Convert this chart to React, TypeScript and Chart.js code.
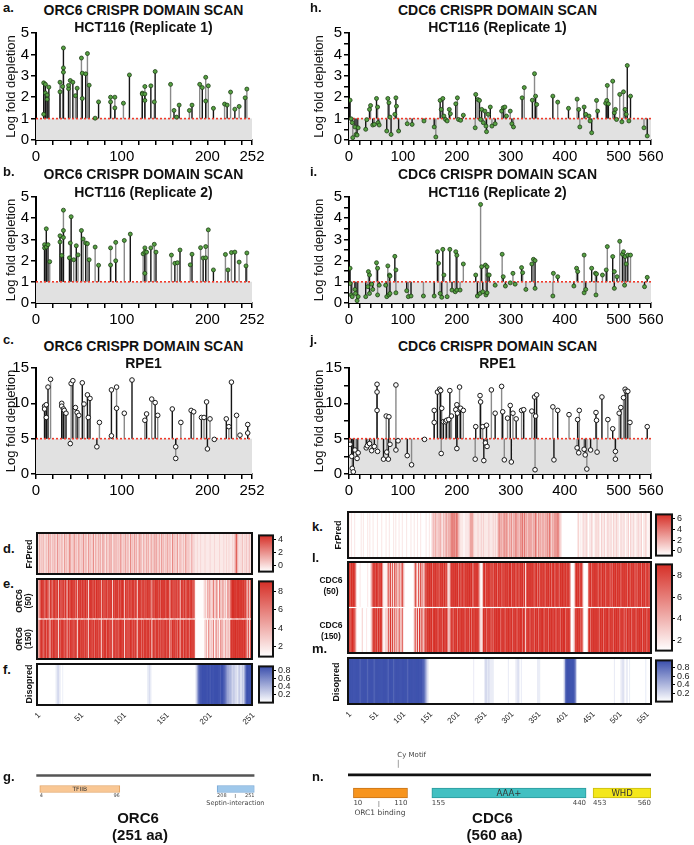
import React, { useEffect, useRef } from "react";
import { Chart, registerables } from "chart.js";

Chart.register(...registerables);

const SANS = "'Liberation Sans', Arial, Helvetica, sans-serif";
const DEJAVU = "'DejaVu Sans', Verdana, sans-serif";
Chart.defaults.font.family = SANS;
Chart.defaults.color = "#000";

type Pt = [number, number];

// ---------------- lollipop data: [residue position, log fold depletion] ----------------
const ORC6_REP1: Pt[] = [
  [9, 2.67], [9, 1.2], [11, 2.6], [11, 2.2], [13, 2.1], [13, 1.9], [15, 2.47],
  [28, 2.7], [28, 2.25], [31, 2.5], [32, 4.3], [32, 3.37], [32, 3.17],
  [38, 2.4], [38, 2.55], [40, 2.78], [43, 2.7], [46, 2.07], [48, 2.42],
  [53, 3.83], [54, 3.12], [54, 1.94], [58, 3.09], [60, 4.04], [62, 2.56],
  [69, 1.02], [73, 1.78], [87, 2.0], [87, 1.78], [92, 2.0], [92, 1.5],
  [102, 1.72], [109, 3.04], [124, 2.19], [124, 2.15], [127, 2.5], [127, 2.15], [127, 1.85],
  [134, 2.53], [138, 1.78], [139, 3.2], [157, 2.6], [161, 1.38], [164, 1.07], [167, 1.63],
  [179, 1.38], [182, 1.63], [191, 2.6], [194, 2.45], [198, 2.93], [198, 1.82], [201, 2.53], [207, 1.48],
  [220, 1.68], [223, 1.63], [227, 2.24], [232, 1.44], [237, 1.57], [244, 1.97], [246, 2.38],
];
const ORC6_REP2: Pt[] = [
  [10, 2.75], [10, 2.6], [12, 3.5], [12, 2.64], [14, 2.75], [16, 1.95],
  [28, 3.17], [28, 2.88], [30, 2.24], [32, 4.38], [32, 3.42], [32, 3.09], [39, 2.13], [40, 2.83], [41, 4.07],
  [44, 2.04], [47, 2.7], [49, 2.27], [53, 3.42], [55, 3.02], [58, 2.83], [60, 2.8], [62, 2.04],
  [69, 2.64], [73, 1.78], [87, 2.6], [87, 1.79], [93, 2.86], [93, 1.99], [103, 2.95], [110, 3.25],
  [125, 2.32], [127, 2.6], [127, 2.4], [127, 1.4], [129, 2.4], [134, 2.6], [138, 2.77], [140, 2.4],
  [158, 2.26], [162, 1.87], [165, 1.9], [168, 2.5], [180, 1.8], [182, 2.3], [192, 2.61], [195, 2.12],
  [198, 2.66], [198, 2.13], [201, 3.45], [207, 1.56], [221, 2.29], [224, 1.56], [228, 2.38], [232, 2.4],
  [237, 1.93], [245, 1.75], [246, 2.36],
];
const ORC6_RPE1: Pt[] = [
  [10, 9.6], [10, 9.2], [12, 9.8], [12, 8.0], [14, 12.3], [17, 13.4],
  [30, 10], [30, 9.6], [32, 9.2], [33, 9], [35, 8.6], [41, 12.8], [43, 13.2], [46, 9.4], [48, 8.7], [50, 8.3],
  [54, 12.9], [56, 9.9], [60, 11.2], [61, 8], [63, 10.7], [74, 7.3], [88, 11.9], [94, 12.3], [94, 9.3],
  [103, 8.6], [112, 13.3], [127, 7.6], [129, 8.5], [135, 10.6], [139, 10.1], [142, 8.3], [159, 9.2], [169, 7.3],
  [181, 9], [184, 8.8], [193, 8], [196, 8], [199, 10.2], [203, 7.8], [222, 7.8], [225, 6.7], [228, 13], [234, 8.3], [247, 7],
  [40, 4.3], [71, 3.85], [88, 5.4], [163, 3.85], [163, 2.2], [200, 3.55], [208, 4.9], [238, 5.5], [247, 5.8],
];
const CDC6_REP1: Pt[] = [
  [2, 1.86], [4, 0.99], [6, 0.81], [7, 0.11], [11, 0.61], [13, 0.26], [15, 0.23], [17, 0.57], [31, 0.5], [33, 0.95],
  [38, 1.43], [40, 1.61], [44, 0.7], [47, 0.73], [51, 1.94], [53, 1.54], [54, 0.81], [56, 0.7], [70, 0.42], [72, 1.94],
  [74, 1.74], [76, 1.07], [78, 0.26], [85, 1.2], [87, 1.97], [88, 1.58], [92, 0.42], [108, 0.76], [117, 0.73], [139, 0.89],
  [158, 0.61], [161, 0.14], [169, 1.85], [171, 1.43], [174, 1.94], [176, 1.12], [179, 0.96], [182, 0.89], [186, 1.43], [188, 1.23],
  [198, 1.69], [201, 1.97], [203, 0.96], [207, 0.92], [212, 1.16], [234, 0.57], [235, 2.13], [239, 1.89], [242, 1.85], [244, 0.96],
  [246, 1.43], [249, 0.81], [252, 1.35], [254, 0.65], [255, 0.39], [258, 1.2], [262, 1.54], [265, 0.65], [271, 0.76], [283, 1.35],
  [286, 1.51], [289, 1.54], [292, 1.12], [299, 1.35], [302, 0.76], [305, 0.61], [321, 1.97], [325, 2.45], [340, 1.86], [344, 3.1],
  [346, 2.05], [348, 1.66], [378, 2.05], [387, 1.77], [407, 1.48], [423, 1.91], [426, 1.43], [428, 0.61], [436, 1.54], [439, 1.2],
  [445, 1.12], [447, 0.89], [450, 0.34], [459, 1.85], [461, 1.35], [476, 1.72], [478, 1.85], [479, 2.55], [481, 1.69], [489, 2.75],
  [492, 1.27], [494, 1.43], [496, 0.96], [502, 2.13], [506, 0.85], [509, 2.25], [512, 1.43], [514, 1.2], [516, 3.48], [519, 0.89],
  [522, 2.05], [547, 0.57], [553, 0.19],
];
const CDC6_REP2: Pt[] = [
  [2, 1.64], [36, 1.48], [38, 1.32], [51, 1.9], [53, 1.64], [72, 1.75], [75, 1.32], [76, 1.27], [85, 2.2], [87, 1.56],
  [164, 2.42], [166, 1.87], [174, 2.53], [176, 1.32], [187, 2.53], [198, 2.42], [200, 2.25], [212, 1.84],
  [235, 1.32], [244, 4.65], [246, 1.71], [253, 1.79], [256, 1.71], [258, 1.32], [260, 1.32], [284, 2.3], [286, 1.24], [304, 1.4],
  [320, 1.67], [322, 1.43], [339, 1.84], [342, 2.06], [345, 2.0], [379, 1.4], [387, 1.24],
  [422, 1.64], [424, 1.48], [436, 2.26], [450, 1.64], [457, 1.4], [459, 1.37], [470, 1.32], [477, 1.56], [479, 2.66], [489, 2.19],
  [492, 1.48], [497, 1.24], [502, 2.91], [507, 2.3], [509, 2.42], [512, 2.19], [514, 1.84], [517, 2.26], [522, 2.26], [553, 1.21],
  [2, 0.92], [4, 0.38], [6, 0.3], [11, 0.64], [12, 0.45], [15, 0.11], [17, 0.3], [31, 0.3], [35, 0.77], [38, 0.45],
  [42, 0.89], [44, 0.64], [53, 0.38], [56, 0.84], [68, 0.84], [70, 0.3], [74, 0.38], [76, 0.45], [87, 0.48], [107, 0.58],
  [110, 0.3], [115, 0.33], [138, 0.33], [158, 0.33], [169, 0.45], [172, 0.27], [182, 0.3], [191, 0.61], [197, 0.53], [200, 0.61],
  [206, 0.61], [238, 0.33], [243, 0.45], [248, 0.53], [254, 0.38], [256, 0.48], [271, 0.84], [290, 0.8], [299, 0.95], [308, 0.89],
  [328, 0.64], [345, 0.69], [378, 0.33], [417, 0.8], [436, 0.48], [439, 0.64], [458, 0.38], [492, 0.69], [511, 0.84], [548, 0.77],
];
const CDC6_RPE1: Pt[] = [
  [52, 12.7], [52, 11.6], [52, 9.0], [69, 8.2], [74, 8.1], [87, 12.6],
  [158, 9.0], [158, 7.3], [164, 11.6], [168, 12.0], [170, 11.8], [172, 9.3], [175, 7.4], [179, 7.4], [181, 7.6], [185, 7.7],
  [187, 11.8], [190, 8.2], [198, 9.1], [200, 9.8], [201, 8.6], [205, 12.3], [207, 9.3], [212, 9.0],
  [235, 6.7], [243, 11.1], [244, 10.2], [248, 6.7], [255, 6.9], [264, 11.9], [271, 8.6], [283, 12.4], [285, 8.8], [294, 7.9],
  [299, 9.7], [304, 8.6], [310, 7.8], [320, 9.0], [324, 9.1], [339, 8.9], [344, 10.9], [346, 8.2], [348, 11.2],
  [378, 9.5], [387, 9.0], [408, 8.4], [424, 7.7], [427, 9.0], [458, 8.7], [459, 7.6], [469, 10.9], [480, 7.7], [489, 6.4],
  [501, 8.6], [504, 9.4], [509, 10.8], [512, 12.0], [514, 11.7], [517, 11.7], [521, 7.3], [553, 6.7],
  [2, 4.2], [5, 2.5], [6, 0.8], [8, 0.3], [11, 3.4], [15, 2.2], [17, 3.0], [32, 3.7], [34, 4.0], [38, 4.3],
  [42, 3.3], [47, 3.9], [53, 3.2], [64, 2.1], [70, 3.1], [73, 2.1], [76, 4.2], [87, 3.4], [91, 4.7], [108, 2.6],
  [116, 1.3], [140, 4.9], [171, 2.9], [200, 3.6], [234, 2.1], [250, 1.9], [253, 4.4], [256, 3.9], [288, 2.0], [301, 1.7],
  [345, 0.6], [380, 2.0], [423, 3.7], [426, 3.0], [436, 3.5], [438, 2.7], [441, 0.7], [448, 3.4], [460, 3.1], [494, 3.2], [494, 2.1],
];

// ---------------- axis ticks ----------------
const ORC6_X_TICKS = [0, 20, 40, 60, 80, 100, 120, 140, 160, 180, 200, 220, 240, 252];
const ORC6_X_LABELS = [0, 100, 200, 252];
const CDC6_X_TICKS = [0, 20, 40, 60, 80, 100, 120, 140, 160, 180, 200, 220, 240, 260, 280, 300, 320, 340, 360, 380, 400, 420, 440, 460, 480, 500, 520, 540, 560];
const CDC6_X_LABELS = [0, 100, 200, 300, 400, 500, 560];
const HCT_Y_TICKS_L = [0, 1, 2, 3, 4, 5];
const HCT_Y_TICKS_R = [0, 0.5, 1, 1.5, 2, 2.5, 3, 3.5, 4, 4.5, 5];
const HCT_Y_LABELS = [0, 1, 2, 3, 4, 5];
const RPE_Y_TICKS_L = [0, 5, 10, 15];
const RPE_Y_TICKS_R = [0, 2.5, 5, 7.5, 10, 12.5, 15];
const RPE_Y_LABELS = [0, 5, 10, 15];
const ORC6_HEAT_LABELS = [1, 51, 101, 151, 201, 251];
const CDC6_HEAT_LABELS = [1, 51, 101, 151, 201, 251, 301, 351, 401, 451, 501, 551];

// ---------------- heatmap levels (one digit per residue for ORC6, per 2 residues for CDC6) ----------------
const ORC6_FRPRED = [
  "1124231512", "2315324132", "4231623142", "3152413264", "2315423152", "4132614231", "5241326142", "3152413523",
  "1423162413", "2514231624", "1325142316", "2413524132", "6231423152", "4132513426", "1324153241", "3251423162",
  "4132513241", "2315241321", "4231211211", "1211112111", "1121111211", "1112111121", "1211211121", "2358321212",
  "3121321231", "2",
];
const ORC6_E50 = [
  "3526798976", "8979189768", "9878929869", "7969819978", "9897969298", "8979879969", "1898978969", "9798929878",
  "8969798919", "7898969789", "9829879698", "7989698198", "9878969789", "8969298798", "9879698989", "7898928987",
  "9698789189", "8797698978", "9868500000", "0000021304", "2514036215", "4206315241", "3052618899", "9898998989",
  "8979643827", "5",
];
const ORC6_E150 = [
  "2536898769", "9697918979", "8969819698", "9878929869", "8969798189", "9798969878", "2989789698", "8969819789",
  "9698969828", "8969878998", "8918969789", "9698797289", "8969698979", "9698189869", "8969789698", "9789819698",
  "8969698298", "9698789869", "8979600000", "0000003140", "5230416025", "3140526031", "4215038989", "8998989898",
  "9898752918", "4",
];
const ORC6_DISO = [
  "0000000000", "0000000000", "0011221100", "1000000000", "0000000000", "0000000000", "0000000000", "0000000000",
  "0000000000", "0000000000", "0000000000", "0000000000", "0000000001", "1211000000", "0000000000", "0000000000",
  "0000000000", "0000000000", "0000012468", "8999999999", "9989999999", "9999899988", "7654534323", "2312123212",
  "3246899999", "9",
];
const CDC6_FRPRED = [
  "0101001000", "0010100010", "1001000100", "0100010010", "0010100100", "1000100010", "0100100100", "0010010123",
  "2413242132", "3424356564", "6532111011", "1124442111", "2112121111", "2111212124", "5342635424", "3524363425",
  "4636342535", "2436425342", "5243536424", "3545632100", "0000000000", "0012010211", "2101121012", "1210211201",
  "2112021121", "1021120112", "0211201121", "1201121011",
];
const CDC6_L50 = [
  "8979898500", "0100000010", "0258979878", "8930102738", "2718360724", "8310000000", "0284172835", "1879898969",
  "8979698979", "7831398989", "8969789698", "9898967989", "8510289698", "9879698969", "8969798979", "9698969879",
  "8969189898", "9878969698", "8969897969", "9698969898", "8979860002", "7989698200", "0068969898", "9698798969",
  "8969698979", "8969898969", "8798969698", "9698969878",
];
const CDC6_L150 = [
  "9878987400", "0002000100", "0148979697", "9820130829", "3827260832", "7100000000", "0372819374", "2969898969",
  "9896989698", "8952489698", "9698898969", "8969698898", "9621398969", "8969698989", "9698969898", "8969896989",
  "9698298969", "8969896989", "9698969898", "8969896989", "9698970013", "8898969300", "0179698989", "8969896989",
  "9698969898", "9698969698", "8969896989", "8969896989",
];
const CDC6_DISO = [
  "9999999999", "9899999989", "9999899999", "9999999899", "9989999999", "9999989999", "9999999998", "8642100000",
  "0000000000", "0000000000", "0000000000", "0000001000", "0000001221", "2111100000", "0000000010", "0000011210",
  "1000000000", "0000011100", "0000000000", "0000000001", "3899999998", "6200000000", "0000000000", "0000000000",
  "0000001000", "0011210110", "1000000000", "0000010000",
];

// ---------------- domain annotations ----------------
const ORC6_LEN = 251;
const CDC6_LEN = 560;
const ORC6_DOMAINS = [
  { name: "TFIIB", start: 4, end: 96, fill: "#f9c794", stroke: "#e3a567" },
  { name: "", start: 208, end: 251, fill: "#9fc8eb", stroke: "#79a9d6" },
];
const CDC6_DOMAINS = [
  { name: "", start: 10, end: 110, fill: "#f7941d", stroke: "#c7741a" },
  { name: "AAA+", start: 155, end: 440, fill: "#41c0c2", stroke: "#2c9a9c" },
  { name: "WHD", start: 453, end: 560, fill: "#f4e71a", stroke: "#c8bb12" },
];
const SEPTIN_SITE = 229;
const ORC1_SITE = 57;
const CY_MOTIF_SITE = 93;

// ---------------- helpers ----------------
function decode(chunks: string[], n: number, rep: number, lo: number, step: number): number[] {
  const s = chunks.join("");
  const out: number[] = [];
  for (let i = 0; i < s.length && out.length < n; i++) {
    for (let r = 0; r < rep && out.length < n; r++) out.push(lo + Number(s[i]) * step);
  }
  while (out.length < n) out.push(out[out.length - 1]);
  return out;
}

const RED = [214, 47, 39];
const BLUE = [58, 78, 172];
function mix(c: number[], t: number) {
  const k = Math.max(0, Math.min(1, t));
  return `rgb(${Math.round(255 - (255 - c[0]) * k)},${Math.round(255 - (255 - c[1]) * k)},${Math.round(255 - (255 - c[2]) * k)})`;
}

const framePlugin = {
  id: "frame",
  afterDatasetsDraw(chart: any) {
    const { ctx, chartArea: a } = chart;
    ctx.save();
    ctx.strokeStyle = "#111";
    ctx.lineWidth = 2;
    ctx.strokeRect(a.left, a.top, a.right - a.left, a.bottom - a.top);
    ctx.restore();
  },
};

function ChartBox({ x, y, w, h, make }: { x: number; y: number; w: number; h: number; make: () => any }) {
  const ref = useRef<HTMLCanvasElement | null>(null);
  useEffect(() => {
    if (!ref.current) return;
    const c = new Chart(ref.current, make());
    return () => c.destroy();
  }, []);
  return <canvas ref={ref} width={w} height={h} style={{ position: "absolute", left: x, top: y, width: w, height: h }} />;
}

interface LP {
  data: Pt[];
  xMax: number;
  xTicks: number[];
  xLabels: number[];
  yMax: number;
  yTicks: number[];
  yLabels: number[];
  thr: number;
  hollow: boolean;
  yWidth: number;
  xHeight: number;
  padTop: number;
  padRight: number;
}

function lollipopConfig(p: LP) {
  const black: any[] = [];
  const grey: any[] = [];
  p.data.forEach(([x, y], i) => {
    (i % 2 === 1 ? grey : black).push({ x, y: p.thr }, { x, y }, { x, y: null });
  });
  const thrLine = [{ x: 0, y: p.thr }, { x: p.xMax, y: p.thr }];
  const axisGrid = { drawOnChartArea: false, drawTicks: true, tickLength: 5, color: "#000", lineWidth: 1.5 };
  return {
    type: "scatter",
    data: {
      datasets: [
        { type: "line", data: thrLine, fill: "origin", backgroundColor: "#e1e1e1", borderWidth: 0, pointRadius: 0, order: 5 },
        { type: "line", data: grey, borderColor: "#8a8a8a", borderWidth: 1.4, pointRadius: 0, spanGaps: false, fill: false, order: 4 },
        { type: "line", data: black, borderColor: "#151515", borderWidth: 1.4, pointRadius: 0, spanGaps: false, fill: false, order: 3 },
        { type: "line", data: thrLine, borderColor: "#ef3b2c", borderWidth: 1.6, borderDash: [2, 2], pointRadius: 0, fill: false, order: 2 },
        {
          type: "scatter",
          data: p.data.map(([x, y]) => ({ x, y })),
          pointRadius: p.hollow ? 2.3 : 2,
          backgroundColor: p.hollow ? "#ffffff" : "#56a142",
          borderColor: p.hollow ? "#1a1a1a" : "#1f3d18",
          borderWidth: p.hollow ? 1 : 0.8,
          order: 1,
        },
      ],
    },
    options: {
      responsive: false,
      animation: false,
      events: [],
      layout: { padding: { top: p.padTop, right: p.padRight, left: 0, bottom: 0 } },
      plugins: { legend: { display: false }, tooltip: { enabled: false } },
      scales: {
        x: {
          type: "linear",
          min: 0,
          max: p.xMax,
          afterBuildTicks: (s: any) => { s.ticks = p.xTicks.map((v) => ({ value: v })); },
          afterFit: (s: any) => { s.height = p.xHeight; },
          ticks: {
            autoSkip: false, maxRotation: 0, minRotation: 0, color: "#000", padding: 3,
            font: { size: 15, family: SANS },
            callback: (v: any) => (p.xLabels.includes(v) ? String(v) : ""),
          },
          grid: axisGrid,
          border: { display: true, color: "#000", width: 2 },
        },
        y: {
          type: "linear",
          min: 0,
          max: p.yMax,
          afterBuildTicks: (s: any) => { s.ticks = p.yTicks.map((v) => ({ value: v })); },
          afterFit: (s: any) => { s.width = p.yWidth; },
          ticks: {
            autoSkip: false, color: "#000", padding: 2,
            font: { size: 15, family: SANS },
            callback: (v: any) => (p.yLabels.includes(v) ? String(v) : ""),
          },
          grid: axisGrid,
          border: { display: true, color: "#000", width: 2 },
          title: { display: true, text: "Log fold depletion", color: "#111", font: { size: 13, family: SANS }, padding: { top: 4, bottom: 0 } },
        },
      },
    },
  };
}

function heatLabelsPlugin(labels: number[]) {
  return {
    id: "heatlabels",
    afterDraw(chart: any) {
      const { ctx, scales, chartArea } = chart;
      ctx.save();
      ctx.font = `8px ${SANS}`;
      ctx.fillStyle = "#222";
      ctx.textAlign = "right";
      ctx.textBaseline = "middle";
      labels.forEach((v) => {
        const px = scales.x.getPixelForValue(v - 1);
        ctx.save();
        ctx.translate(px + 2, chartArea.bottom + 9);
        ctx.rotate(-Math.PI / 4);
        ctx.fillText(String(v), 0, 0);
        ctx.restore();
      });
      ctx.restore();
    },
  };
}

function heatConfig(rows: string[][], pad: any, labels?: number[]) {
  const n = rows[0].length;
  const k = rows.length;
  const gap = 0.025;
  const datasets = rows.map((colors, r) => {
    const b = k - 1 - r + (r < k - 1 ? gap : 0);
    const t = k - r - (r > 0 ? gap : 0);
    return {
      data: colors.map(() => [b, t]),
      backgroundColor: colors,
      borderWidth: 0,
      barPercentage: 1,
      categoryPercentage: 1,
      grouped: false,
    };
  });
  const plugins: any[] = [framePlugin];
  if (labels) plugins.push(heatLabelsPlugin(labels));
  return {
    type: "bar",
    data: { labels: Array.from({ length: n }, (_, i) => String(i + 1)), datasets },
    options: {
      responsive: false,
      animation: false,
      events: [],
      layout: { padding: pad },
      plugins: { legend: { display: false }, tooltip: { enabled: false } },
      scales: {
        x: { type: "category", display: false },
        y: { type: "linear", min: 0, max: k, display: false },
      },
    },
    plugins,
  };
}

function colorbarConfig(lo: number, hi: number, col: number[], ticks: number[], pad: any, yWidth: number) {
  return {
    type: "bar",
    data: {
      labels: [""],
      datasets: [
        {
          data: [[lo, hi]],
          backgroundColor: (ctx: any) => {
            const area = ctx.chart.chartArea;
            if (!area) return mix(col, 0.5);
            const g = ctx.chart.ctx.createLinearGradient(0, area.bottom, 0, area.top);
            g.addColorStop(0, mix(col, 0));
            g.addColorStop(0.5, mix(col, 0.5));
            g.addColorStop(1, mix(col, 1));
            return g;
          },
          borderWidth: 0,
          barPercentage: 1,
          categoryPercentage: 1,
        },
      ],
    },
    options: {
      responsive: false,
      animation: false,
      events: [],
      layout: { padding: pad },
      plugins: { legend: { display: false }, tooltip: { enabled: false } },
      scales: {
        x: { display: false },
        y: {
          position: "right",
          min: lo,
          max: hi,
          afterBuildTicks: (s: any) => { s.ticks = ticks.map((v) => ({ value: v })); },
          afterFit: (s: any) => { s.width = yWidth; },
          ticks: { autoSkip: false, color: "#222", padding: 2, font: { size: 9, family: SANS }, callback: (v: any) => String(v) },
          grid: { drawOnChartArea: false, drawTicks: true, tickLength: 3, color: "#000", lineWidth: 1 },
          border: { display: false },
        },
      },
    },
    plugins: [framePlugin],
  };
}

function domainConfig(
  len: number,
  domains: { name: string; start: number; end: number; fill: string; stroke: string }[],
  lineColor: string,
  boxThick: number,
  pad: any,
  extra: (chart: any) => void
) {
  const datasets: any[] = [
    { data: [[0, len], null], backgroundColor: lineColor, borderWidth: 0, barThickness: 2, grouped: false },
  ];
  domains.forEach((d) => {
    datasets.push({
      data: [null, [d.start, d.end]],
      backgroundColor: d.fill,
      borderColor: d.stroke,
      borderWidth: 1,
      borderSkipped: false,
      barThickness: boxThick,
      grouped: false,
    });
  });
  const textPlugin = {
    id: "domaintext",
    afterDatasetsDraw(chart: any) {
      const { ctx, scales } = chart;
      const cy = scales.y.getPixelForValue(1);
      ctx.save();
      ctx.fillStyle = "#333";
      ctx.textBaseline = "middle";
      ctx.textAlign = "center";
      domains.forEach((d) => {
        if (!d.name) return;
        ctx.font = `${boxThick > 8 ? 8.5 : 6}px ${DEJAVU}`;
        ctx.fillText(d.name, scales.x.getPixelForValue((d.start + d.end) / 2), cy + 0.5);
      });
      ctx.restore();
      extra(chart);
    },
  };
  return {
    type: "bar",
    data: { labels: ["line", "dom"], datasets },
    options: {
      indexAxis: "y",
      responsive: false,
      animation: false,
      events: [],
      layout: { padding: pad },
      plugins: { legend: { display: false }, tooltip: { enabled: false } },
      scales: {
        x: { type: "linear", min: 0, max: len, display: false },
        y: { type: "category", display: false },
      },
    },
    plugins: [textPlugin],
  };
}

function numbersUnder(chart: any, domains: { start: number; end: number }[], dy: number, size: number) {
  const { ctx, scales } = chart;
  const cy = scales.y.getPixelForValue(1);
  ctx.save();
  ctx.fillStyle = "#444";
  ctx.font = `${size}px ${DEJAVU}`;
  ctx.textBaseline = "middle";
  domains.forEach((d) => {
    ctx.textAlign = "left";
    ctx.fillText(String(d.start), scales.x.getPixelForValue(d.start), cy + dy);
    ctx.textAlign = "right";
    ctx.fillText(String(d.end), scales.x.getPixelForValue(d.end), cy + dy);
  });
  ctx.restore();
}

function orc6Extra(chart: any) {
  const { ctx, scales } = chart;
  const cy = scales.y.getPixelForValue(1);
  numbersUnder(chart, ORC6_DOMAINS, 7, 5);
  ctx.save();
  const sx = scales.x.getPixelForValue(SEPTIN_SITE);
  ctx.strokeStyle = "#888";
  ctx.lineWidth = 0.8;
  ctx.beginPath();
  ctx.moveTo(sx, cy + 5);
  ctx.lineTo(sx, cy + 9);
  ctx.stroke();
  ctx.fillStyle = "#444";
  ctx.font = `6.5px ${DEJAVU}`;
  ctx.textAlign = "center";
  ctx.textBaseline = "middle";
  ctx.fillText("Septin-interaction", sx, cy + 14.5);
  ctx.restore();
}

function cdc6Extra(chart: any) {
  const { ctx, scales } = chart;
  const cy = scales.y.getPixelForValue(1);
  const ly = scales.y.getPixelForValue(0);
  numbersUnder(chart, CDC6_DOMAINS, 10, 7);
  ctx.save();
  ctx.strokeStyle = "#888";
  ctx.lineWidth = 0.8;
  const ox = scales.x.getPixelForValue(ORC1_SITE);
  ctx.beginPath();
  ctx.moveTo(ox, cy + 8);
  ctx.lineTo(ox, cy + 14);
  ctx.stroke();
  const mx = scales.x.getPixelForValue(CY_MOTIF_SITE);
  ctx.beginPath();
  ctx.moveTo(mx, ly - 15);
  ctx.lineTo(mx, ly - 7);
  ctx.stroke();
  ctx.fillStyle = "#444";
  ctx.font = `7.5px ${DEJAVU}`;
  ctx.textBaseline = "middle";
  ctx.textAlign = "center";
  ctx.fillText("ORC1 binding", scales.x.getPixelForValue(ORC1_SITE + 2), cy + 20);
  ctx.font = `7px ${DEJAVU}`;
  ctx.textAlign = "left";
  ctx.fillText("Cy Motif", mx - 1, ly - 19.5);
  ctx.restore();
}

function Txt(props: { x: number; y: number; s: string; size: number; bold?: boolean; rot?: number; left?: boolean; lh?: number }) {
  const { x, y, s, size, bold, rot = 0, left, lh = 1.15 } = props;
  return (
    <div
      style={{
        position: "absolute",
        left: x,
        top: y,
        transform: `${left ? "translate(0,-50%)" : "translate(-50%,-50%)"} rotate(${rot}deg)`,
        whiteSpace: "pre",
        fontFamily: SANS,
        fontSize: size,
        fontWeight: bold ? 700 : 400,
        lineHeight: lh,
        textAlign: "center",
        color: "#111",
      }}
    >
      {s}
    </div>
  );
}

export default function App() {
  const oFr = decode(ORC6_FRPRED, ORC6_LEN, 1, -1, 0.6).map((v) => mix(RED, (v + 1) / 5.7));
  const oE50 = decode(ORC6_E50, ORC6_LEN, 1, 1, 0.9).map((v) => mix(RED, (v - 0.9) / 8.2));
  const oE150 = decode(ORC6_E150, ORC6_LEN, 1, 1, 0.9).map((v) => mix(RED, (v - 0.9) / 8.2));
  const oDi = decode(ORC6_DISO, ORC6_LEN, 1, 0, 0.1).map((v) => mix(BLUE, v / 0.91));
  const cFr = decode(CDC6_FRPRED, CDC6_LEN, 2, -0.9, 0.85).map((v) => mix(RED, (v + 0.9) / 7.74));
  const cL50 = decode(CDC6_L50, CDC6_LEN, 2, 1, 0.9).map((v) => mix(RED, (v - 1.03) / 8.03));
  const cL150 = decode(CDC6_L150, CDC6_LEN, 2, 1, 0.9).map((v) => mix(RED, (v - 1.03) / 8.03));
  const cDi = decode(CDC6_DISO, CDC6_LEN, 2, 0, 0.105).map((v) => mix(BLUE, v / 0.97));

  const L = { xTicks: ORC6_X_TICKS, xLabels: ORC6_X_LABELS, xMax: 252, yWidth: 36, xHeight: 28, padTop: 10, padRight: 23 };
  const R = { xTicks: CDC6_X_TICKS, xLabels: CDC6_X_LABELS, xMax: 560, yWidth: 41, xHeight: 28, padTop: 10, padRight: 25 };

  return (
    <div style={{ position: "absolute", left: 0, top: 0, width: 694, height: 845, background: "#fff", overflow: "hidden", fontFamily: SANS }}>
      {/* lollipop charts */}
      <ChartBox x={0} y={22} w={275} h={146} make={() => lollipopConfig({ ...L, data: ORC6_REP1, yMax: 5, yTicks: HCT_Y_TICKS_L, yLabels: HCT_Y_LABELS, thr: 1, hollow: false })} />
      <ChartBox x={0} y={186} w={275} h={145} make={() => lollipopConfig({ ...L, data: ORC6_REP2, yMax: 5, yTicks: HCT_Y_TICKS_L, yLabels: HCT_Y_LABELS, thr: 1, hollow: false })} />
      <ChartBox x={0} y={357} w={275} h={145} make={() => lollipopConfig({ ...L, data: ORC6_RPE1, yMax: 15, yTicks: RPE_Y_TICKS_L, yLabels: RPE_Y_LABELS, thr: 5, hollow: true })} />
      <ChartBox x={308} y={22} w={368} h={146} make={() => lollipopConfig({ ...R, data: CDC6_REP1, yMax: 5, yTicks: HCT_Y_TICKS_R, yLabels: HCT_Y_LABELS, thr: 1, hollow: false })} />
      <ChartBox x={308} y={186} w={368} h={145} make={() => lollipopConfig({ ...R, data: CDC6_REP2, yMax: 5, yTicks: HCT_Y_TICKS_R, yLabels: HCT_Y_LABELS, thr: 1, hollow: false })} />
      <ChartBox x={308} y={357} w={368} h={145} make={() => lollipopConfig({ ...R, data: CDC6_RPE1, yMax: 15, yTicks: RPE_Y_TICKS_R, yLabels: RPE_Y_LABELS, thr: 5, hollow: true })} />

      {/* ORC6 heatmaps */}
      <ChartBox x={35} y={531} w={219} h={45} make={() => heatConfig([oFr], { left: 2, right: 2, top: 2, bottom: 2 })} />
      <ChartBox x={35} y={577} w={219} h={84} make={() => heatConfig([oE50, oE150], { left: 2, right: 2, top: 2, bottom: 2 })} />
      <ChartBox x={15} y={662} w={250} h={70} make={() => heatConfig([oDi], { left: 22, right: 13, top: 2, bottom: 27 }, ORC6_HEAT_LABELS)} />
      <ChartBox x={257} y={528} w={42} h={51} make={() => colorbarConfig(-1, 4.7, RED, [0, 2, 4], { left: 2, right: 2, top: 5, bottom: 5 }, 24)} />
      <ChartBox x={257} y={574} w={42} h={90} make={() => colorbarConfig(0.9, 9.1, RED, [2, 4, 6, 8], { left: 2, right: 2, top: 5, bottom: 5 }, 24)} />
      <ChartBox x={257} y={659} w={42} h={51} make={() => colorbarConfig(0, 0.91, BLUE, [0.2, 0.4, 0.6, 0.8], { left: 2, right: 2, top: 5, bottom: 5 }, 24)} />

      {/* CDC6 heatmaps */}
      <ChartBox x={346} y={510} w={307} h={50} make={() => heatConfig([cFr], { left: 2, right: 2, top: 2, bottom: 2 })} />
      <ChartBox x={346} y={560} w={307} h={95} make={() => heatConfig([cL50, cL150], { left: 2, right: 2, top: 2, bottom: 2 })} />
      <ChartBox x={326} y={656} w={330} h={75} make={() => heatConfig([cDi], { left: 22, right: 5, top: 2, bottom: 27 }, CDC6_HEAT_LABELS)} />
      <ChartBox x={654} y={507} w={40} h={56} make={() => colorbarConfig(-0.9, 6.84, RED, [0, 2, 4, 6], { left: 2, right: 2, top: 5, bottom: 5 }, 20)} />
      <ChartBox x={654} y={557} w={40} h={101} make={() => colorbarConfig(1.03, 9.06, RED, [2, 4, 6, 8], { left: 2, right: 2, top: 5, bottom: 5 }, 20)} />
      <ChartBox x={654} y={653} w={40} h={56} make={() => colorbarConfig(0, 0.97, BLUE, [0.2, 0.4, 0.6, 0.8], { left: 2, right: 2, top: 5, bottom: 5 }, 20)} />

      {/* domain diagrams */}
      <ChartBox x={0} y={740} w={280} h={90} make={() => domainConfig(ORC6_LEN, ORC6_DOMAINS, "#555", 7, { left: 36.3, right: 25.5, top: 28.75, bottom: 34.25 }, orc6Extra)} />
      <ChartBox x={330} y={740} w={364} h={90} make={() => domainConfig(CDC6_LEN, CDC6_DOMAINS, "#111", 10, { left: 18, right: 43, top: 25.7, bottom: 27.9 }, cdc6Extra)} />

      {/* titles */}
      <Txt x={143.5} y={9.5} s="ORC6 CRISPR DOMAIN SCAN" size={14} bold />
      <Txt x={143.5} y={26.5} s="HCT116 (Replicate 1)" size={14} bold />
      <Txt x={143.5} y={174} s="ORC6 CRISPR DOMAIN SCAN" size={14} bold />
      <Txt x={143.5} y={192} s="HCT116 (Replicate 2)" size={14} bold />
      <Txt x={143.5} y={346} s="ORC6 CRISPR DOMAIN SCAN" size={14} bold />
      <Txt x={143.5} y={362.5} s="RPE1" size={14} bold />
      <Txt x={497.5} y={9.5} s="CDC6 CRISPR DOMAIN SCAN" size={14} bold />
      <Txt x={497.5} y={26.5} s="HCT116 (Replicate 1)" size={14} bold />
      <Txt x={497.5} y={174} s="CDC6 CRISPR DOMAIN SCAN" size={14} bold />
      <Txt x={497.5} y={192} s="HCT116 (Replicate 2)" size={14} bold />
      <Txt x={497.5} y={346} s="CDC6 CRISPR DOMAIN SCAN" size={14} bold />
      <Txt x={497.5} y={362.5} s="RPE1" size={14} bold />

      {/* panel letters */}
      <Txt x={3} y={8} s="a." size={13} bold left />
      <Txt x={3} y={172} s="b." size={13} bold left />
      <Txt x={3} y={340} s="c." size={13} bold left />
      <Txt x={3} y={549} s="d." size={13} bold left />
      <Txt x={3} y={584} s="e." size={13} bold left />
      <Txt x={3} y={670} s="f." size={13} bold left />
      <Txt x={3} y={777} s="g." size={13} bold left />
      <Txt x={310} y={8} s="h." size={13} bold left />
      <Txt x={310} y={172} s="i." size={13} bold left />
      <Txt x={310} y={340} s="j." size={13} bold left />
      <Txt x={312} y={527} s="k." size={13} bold left />
      <Txt x={312} y={558} s="l." size={13} bold left />
      <Txt x={312} y={649} s="m." size={13} bold left />
      <Txt x={312} y={777} s="n." size={13} bold left />

      {/* heatmap row labels */}
      <Txt x={28.5} y={554} s="FrPred" size={9} bold rot={-90} />
      <Txt x={24} y={601} s={"ORC6\n(50)"} size={8.5} bold rot={-90} lh={1.1} />
      <Txt x={24} y={639} s={"ORC6\n(150)"} size={8.5} bold rot={-90} lh={1.1} />
      <Txt x={28.5} y={684} s="Disopred" size={9} bold rot={-90} />
      <Txt x={337.5} y={535} s="FrPred" size={9} bold rot={-90} />
      <Txt x={331} y={586} s={"CDC6\n(50)"} size={8.5} bold lh={1.25} />
      <Txt x={331} y={631} s={"CDC6\n(150)"} size={8.5} bold lh={1.25} />
      <Txt x={336} y={682} s="Disopred" size={9} bold rot={-90} />

      {/* protein captions */}
      <Txt x={138} y={817.5} s="ORC6" size={15} bold />
      <Txt x={140} y={834.5} s="(251 aa)" size={15} bold />
      <Txt x={492.5} y={817.5} s="CDC6" size={15} bold />
      <Txt x={494.5} y={834.5} s="(560 aa)" size={15} bold />
    </div>
  );
}
